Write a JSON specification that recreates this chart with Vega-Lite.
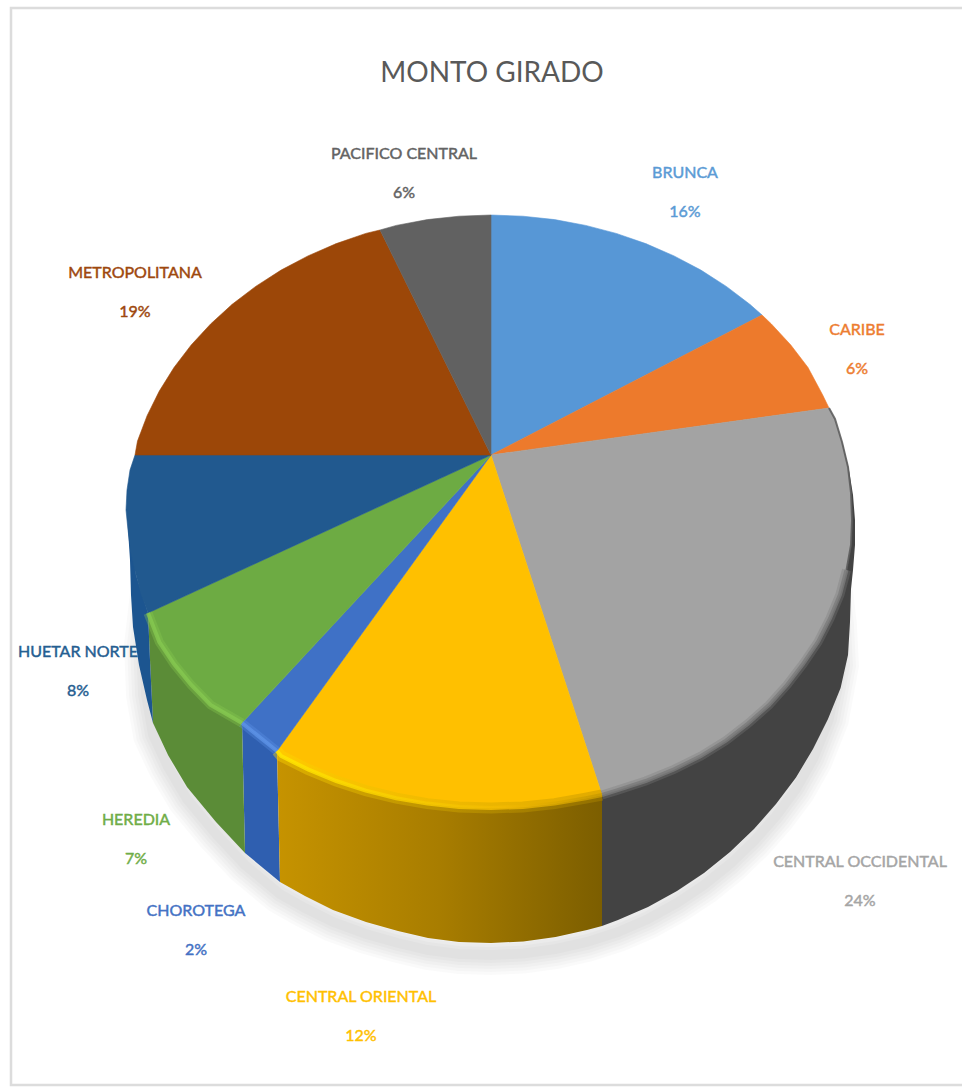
{
"$schema":"https://vega.github.io/schema/vega-lite/v6.json",
"width":962,"height":1088,"padding":0,"autosize":{"type":"none"},"background":"white",
"title":{"text":"MONTO GIRADO","anchor":"middle","frame":"group","orient":"top","baseline":"top","offset":0,"dx":11,"dy":88,"font":"Lato","fontSize":28,"fontWeight":"normal","color":"#595959"},
"view":{"stroke":null},
"projection":{"type":"identity","reflectY":true,"scale":1,"translate":[491,455]},
"datasets":{
"frame":[{"type":"Feature","properties":{"name":"frame"},"geometry":{"type":"Polygon","coordinates":[[[-480,447],[479,447],[479,-630],[-480,-630],[-480,447]]]}}],
"shadow":[{"type":"Feature","properties":{"name":"shadow"},"geometry":{"type":"LineString","coordinates":[[340,-120],[346,-170],[348,-210],[338,-264],[322,-304],[305,-334],[285,-361],[263,-386],[239,-409],[213,-430],[186,-448],[157,-464],[127,-477],[96,-487],[64.6,-494],[32.4,-498.5],[0,-500],[-32,-499],[-63,-495],[-93,-488],[-125,-479],[-158,-467],[-186,-453],[-211,-439],[-246,-410],[-275,-379],[-304,-344],[-323,-312],[-338,-280],[-345,-240],[-347,-190],[-340,-130]]}}],
"labels":[
{"region":"BRUNCA","share":0.16,"lon":194,"lat":282},
{"region":"CARIBE","share":0.06,"lon":366,"lat":125},
{"region":"CENTRAL OCCIDENTAL","share":0.24,"lon":369,"lat":-407},
{"region":"CENTRAL ORIENTAL","share":0.12,"lon":-130,"lat":-542},
{"region":"CHOROTEGA","share":0.02,"lon":-295,"lat":-456},
{"region":"HEREDIA","share":0.07,"lon":-355,"lat":-365},
{"region":"HUETAR NORTE","share":0.08,"lon":-413,"lat":-197},
{"region":"METROPOLITANA","share":0.19,"lon":-356,"lat":182},
{"region":"PACIFICO CENTRAL","share":0.06,"lon":-87,"lat":301}
],
"walls":[
{"type":"Feature","properties":{"region":"CENTRAL OCCIDENTAL"},"geometry":{"type":"Polygon","coordinates":[[[338,47],[345,30],[352,10],[358,-15],[362,-40],[364,-65],[364,-90],[362,-115],[360,-134],[359,-167],[357,-200],[349.6,-233],[337,-264],[322,-294],[305,-322.5],[285,-349],[263,-374],[239,-397],[213,-418],[186,-436],[157,-452],[127,-465],[111,-471],[111,-340],[338,47]]]}},
{"type":"Feature","properties":{"region":"CHOROTEGA"},"geometry":{"type":"Polygon","coordinates":[[[-214,-296],[-249,-268],[-246,-398],[-211,-427],[-214,-296]]]}},
{"type":"Feature","properties":{"region":"HEREDIA"},"geometry":{"type":"Polygon","coordinates":[[[-249,-268],[-246,-398],[-275,-367],[-304,-332],[-323,-300],[-338,-268],[-341,-205],[-343,-158],[-249,-268]]]}},
{"type":"Feature","properties":{"region":"HUETAR NORTE"},"geometry":{"type":"Polygon","coordinates":[[[-364,-35],[-363,-75],[-361,-105],[-360,-140],[-358,-172],[-352,-210],[-344,-245],[-338,-268],[-341,-205],[-343,-158],[-355,-120],[-364,-35]]]}}
],
"frontWall":[{"type":"Feature","properties":{"region":"CENTRAL ORIENTAL"},"geometry":{"type":"Polygon","coordinates":[[[111,-340],[111,-471],[96,-475],[64.6,-482],[32.4,-486.5],[0,-488],[-32,-487],[-63,-483],[-93,-476],[-125,-467],[-158,-455],[-186,-441],[-211,-427],[-214,-296],[-209.9,-301],[-183,-314.4],[-154.7,-326],[-125.2,-335.6],[-94.7,-343.2],[-63.6,-348.6],[-31.9,-351.9],[0,-353],[31.9,-351.9],[63.6,-348.6],[94.7,-343.2],[111,-340]]]}}],
"tops":[
{"type":"Feature","properties":{"region":"BRUNCA","share":0.16},"geometry":{"type":"Polygon","coordinates":[[[0,0],[0,240],[31.9,238.8],[63.6,235.4],[94.7,229.6],[125.2,221.6],[154.7,211.4],[183,199.1],[209.9,184.9],[235.3,168.6],[258.8,150.7],[271,140],[0,0]]]}},
{"type":"Feature","properties":{"region":"CARIBE","share":0.06},"geometry":{"type":"Polygon","coordinates":[[[0,0],[271,140],[280.4,131],[299.8,110],[317,87.5],[331.7,60],[338,47],[0,0]]]}},
{"type":"Feature","properties":{"region":"CENTRAL OCCIDENTAL","share":0.24},"geometry":{"type":"Polygon","coordinates":[[[0,0],[338,47],[344,36],[351,13],[357,-12],[360,-38],[361,-65],[360,-90],[355.5,-115],[349,-139.5],[339,-163.5],[327,-187],[312,-209],[296,-230],[278,-250],[257,-268.6],[235,-285.6],[210,-301],[183,-314.4],[154.7,-326],[125.2,-335.6],[111,-340],[0,0]]]}},
{"type":"Feature","properties":{"region":"CENTRAL ORIENTAL","share":0.12},"geometry":{"type":"Polygon","coordinates":[[[0,0],[111,-340],[94.7,-343.2],[63.6,-348.6],[31.9,-351.9],[0,-353],[-31.9,-351.9],[-63.6,-348.6],[-94.7,-343.2],[-125.2,-335.6],[-154.7,-326],[-183,-314.4],[-209.9,-301],[-214,-296],[0,0]]]}},
{"type":"Feature","properties":{"region":"CHOROTEGA","share":0.02},"geometry":{"type":"Polygon","coordinates":[[[0,0],[-214,-296],[-249,-268],[0,0]]]}},
{"type":"Feature","properties":{"region":"HEREDIA","share":0.07},"geometry":{"type":"Polygon","coordinates":[[[0,0],[-249,-268],[-280.4,-250],[-299.8,-230],[-317,-209],[-331.7,-187],[-343,-158],[0,0]]]}},
{"type":"Feature","properties":{"region":"HUETAR NORTE","share":0.08},"geometry":{"type":"Polygon","coordinates":[[[0,0],[-343,-158],[-350,-139],[-355,-120],[-360,-98],[-363,-75],[-365,-55],[-364,-35],[-361,-15],[-356,0],[0,0]]]}},
{"type":"Feature","properties":{"region":"METROPOLITANA","share":0.19},"geometry":{"type":"Polygon","coordinates":[[[0,0],[-356,0],[-353.5,13.9],[-343.9,39.3],[-331.7,63.9],[-317,87.5],[-299.8,110],[-280.4,131],[-258.8,150.7],[-235.3,168.6],[-209.9,184.9],[-183,199.1],[-154.7,211.4],[-125.2,221.6],[-111,225],[0,0]]]}},
{"type":"Feature","properties":{"region":"PACIFICO CENTRAL","share":0.06},"geometry":{"type":"Polygon","coordinates":[[[0,0],[-111,225],[-94.7,229.6],[-63.6,235.4],[-31.9,238.8],[0,240],[0,0]]]}}
],
"edge":[{"type":"Feature","properties":{"region":"CENTRAL OCCIDENTAL"},"geometry":{"type":"LineString","coordinates":[[338,47],[344,36],[351,13],[357,-12],[360,-38],[361,-65],[360,-90],[355.5,-115]]}}],
"rims":[
{"type":"Feature","properties":{"region":"CENTRAL OCCIDENTAL"},"geometry":{"type":"LineString","coordinates":[[355.5,-115],[349,-139.5],[339,-163.5],[327,-187],[312,-209],[296,-230],[278,-250],[257,-268.6],[235,-285.6],[210,-301],[183,-314.4],[154.7,-326],[125.2,-335.6],[111,-340]]}},
{"type":"Feature","properties":{"region":"CHOROTEGA"},"geometry":{"type":"LineString","coordinates":[[-214,-296],[-249,-268]]}},
{"type":"Feature","properties":{"region":"HEREDIA"},"geometry":{"type":"LineString","coordinates":[[-249,-268],[-280.4,-250],[-299.8,-230],[-317,-209],[-331.7,-187],[-343,-158]]}}
],
"frontRim":[{"type":"Feature","properties":{"region":"CENTRAL ORIENTAL"},"geometry":{"type":"LineString","coordinates":[[111,-340],[94.7,-343.2],[63.6,-348.6],[31.9,-351.9],[0,-353],[-31.9,-351.9],[-63.6,-348.6],[-94.7,-343.2],[-125.2,-335.6],[-154.7,-326],[-183,-314.4],[-209.9,-301],[-214,-296]]}}]
},
"layer":[
{"data":{"name":"frame"},"mark":{"type":"geoshape","fill":null,"stroke":"#dcdcdc","strokeWidth":2.5}},
{"data":{"name":"shadow"},"mark":{"type":"geoshape","fill":null,"stroke":"#000000","strokeOpacity":0.018,"strokeWidth":40}},
{"data":{"name":"shadow"},"mark":{"type":"geoshape","fill":null,"stroke":"#000000","strokeOpacity":0.018,"strokeWidth":34}},
{"data":{"name":"shadow"},"mark":{"type":"geoshape","fill":null,"stroke":"#000000","strokeOpacity":0.018,"strokeWidth":28}},
{"data":{"name":"shadow"},"mark":{"type":"geoshape","fill":null,"stroke":"#000000","strokeOpacity":0.018,"strokeWidth":22}},
{"data":{"name":"shadow"},"mark":{"type":"geoshape","fill":null,"stroke":"#000000","strokeOpacity":0.018,"strokeWidth":16}},
{"data":{"name":"shadow"},"mark":{"type":"geoshape","fill":null,"stroke":"#000000","strokeOpacity":0.018,"strokeWidth":10}},
{"data":{"name":"labels"},"transform":[{"calculate":"datum.region + '\\n' + format(datum.share, '.0%')","as":"label"}],
 "mark":{"type":"text","font":"Lato","fontSize":16,"lineBreak":"\n","lineHeight":39,"align":"center","baseline":"middle","strokeWidth":0.45},
 "encoding":{"longitude":{"field":"lon","type":"quantitative"},"latitude":{"field":"lat","type":"quantitative"},"text":{"field":"label"},
  "fill":{"field":"region","type":"nominal","legend":null,"scale":{"domain":["BRUNCA","CARIBE","CENTRAL OCCIDENTAL","CENTRAL ORIENTAL","CHOROTEGA","HEREDIA","HUETAR NORTE","METROPOLITANA","PACIFICO CENTRAL"],"range":["#5b9bd5","#ed7d31","#a5a5a5","#ffc000","#4472c4","#70ad47","#255e91","#9e480e","#636363"]}},
  "stroke":{"field":"region","type":"nominal","legend":null,"scale":{"domain":["BRUNCA","CARIBE","CENTRAL OCCIDENTAL","CENTRAL ORIENTAL","CHOROTEGA","HEREDIA","HUETAR NORTE","METROPOLITANA","PACIFICO CENTRAL"],"range":["#5b9bd5","#ed7d31","#a5a5a5","#ffc000","#4472c4","#70ad47","#255e91","#9e480e","#636363"]}}}},
{"data":{"name":"walls"},"mark":{"type":"geoshape","strokeWidth":0},
 "encoding":{"fill":{"field":"properties.region","type":"nominal","legend":null,"scale":{"domain":["CENTRAL OCCIDENTAL","CHOROTEGA","HEREDIA","HUETAR NORTE"],"range":["#434343","#2f5fb0","#5b8c37","#1c5590"]}}}},
{"data":{"name":"frontWall"},"mark":{"type":"geoshape","strokeWidth":0,"fill":{"gradient":"linear","x1":0,"y1":0,"x2":1,"y2":0,"stops":[{"offset":0,"color":"#c69300"},{"offset":0.5,"color":"#a87d00"},{"offset":1,"color":"#7c5e00"}]}}},
{"data":{"name":"tops"},"mark":{"type":"geoshape","strokeWidth":0.6},
 "encoding":{"fill":{"field":"properties.region","type":"nominal","legend":null,"scale":{"domain":["BRUNCA","CARIBE","CENTRAL OCCIDENTAL","CENTRAL ORIENTAL","CHOROTEGA","HEREDIA","HUETAR NORTE","METROPOLITANA","PACIFICO CENTRAL"],"range":["#5797d6","#ed7a2c","#a3a3a3","#ffc000","#3f71c6","#6dab43","#21598f","#9c4708","#616161"]}},
 "stroke":{"field":"properties.region","type":"nominal","legend":null,"scale":{"domain":["BRUNCA","CARIBE","CENTRAL OCCIDENTAL","CENTRAL ORIENTAL","CHOROTEGA","HEREDIA","HUETAR NORTE","METROPOLITANA","PACIFICO CENTRAL"],"range":["#5797d6","#ed7a2c","#a3a3a3","#ffc000","#3f71c6","#6dab43","#21598f","#9c4708","#616161"]}}}},
{"data":{"name":"edge"},"mark":{"type":"geoshape","fill":null,"stroke":"#555555","strokeWidth":2,"strokeOpacity":0.8,"strokeCap":"butt"}},
{"data":{"name":"rims"},"mark":{"type":"geoshape","fill":null,"strokeWidth":9,"strokeOpacity":0.35,"strokeCap":"butt"},
 "encoding":{"stroke":{"field":"properties.region","type":"nominal","legend":null,"scale":{"domain":["CENTRAL OCCIDENTAL","CHOROTEGA","HEREDIA"],"range":["#7a7a7a","#5c92e6","#86c850"]}}}},
{"data":{"name":"rims"},"mark":{"type":"geoshape","fill":null,"strokeWidth":4,"strokeOpacity":0.8,"strokeCap":"butt"},
 "encoding":{"stroke":{"field":"properties.region","type":"nominal","legend":null,"scale":{"domain":["CENTRAL OCCIDENTAL","CHOROTEGA","HEREDIA"],"range":["#7a7a7a","#5c92e6","#86c850"]}}}},
{"data":{"name":"frontRim"},"mark":{"type":"geoshape","fill":null,"strokeWidth":11,"strokeOpacity":0.4,"strokeCap":"butt","stroke":{"gradient":"linear","x1":0,"y1":0,"x2":1,"y2":0,"stops":[{"offset":0,"color":"#ffd800"},{"offset":1,"color":"#b48a00"}]}}},
{"data":{"name":"frontRim"},"mark":{"type":"geoshape","fill":null,"strokeWidth":4,"strokeOpacity":0.85,"strokeCap":"butt","stroke":{"gradient":"linear","x1":0,"y1":0,"x2":1,"y2":0,"stops":[{"offset":0,"color":"#ffe600"},{"offset":0.7,"color":"#f2b900"},{"offset":1,"color":"#c89a00"}]}}}
],
"resolve":{"scale":{"fill":"independent","stroke":"independent"}}
}
